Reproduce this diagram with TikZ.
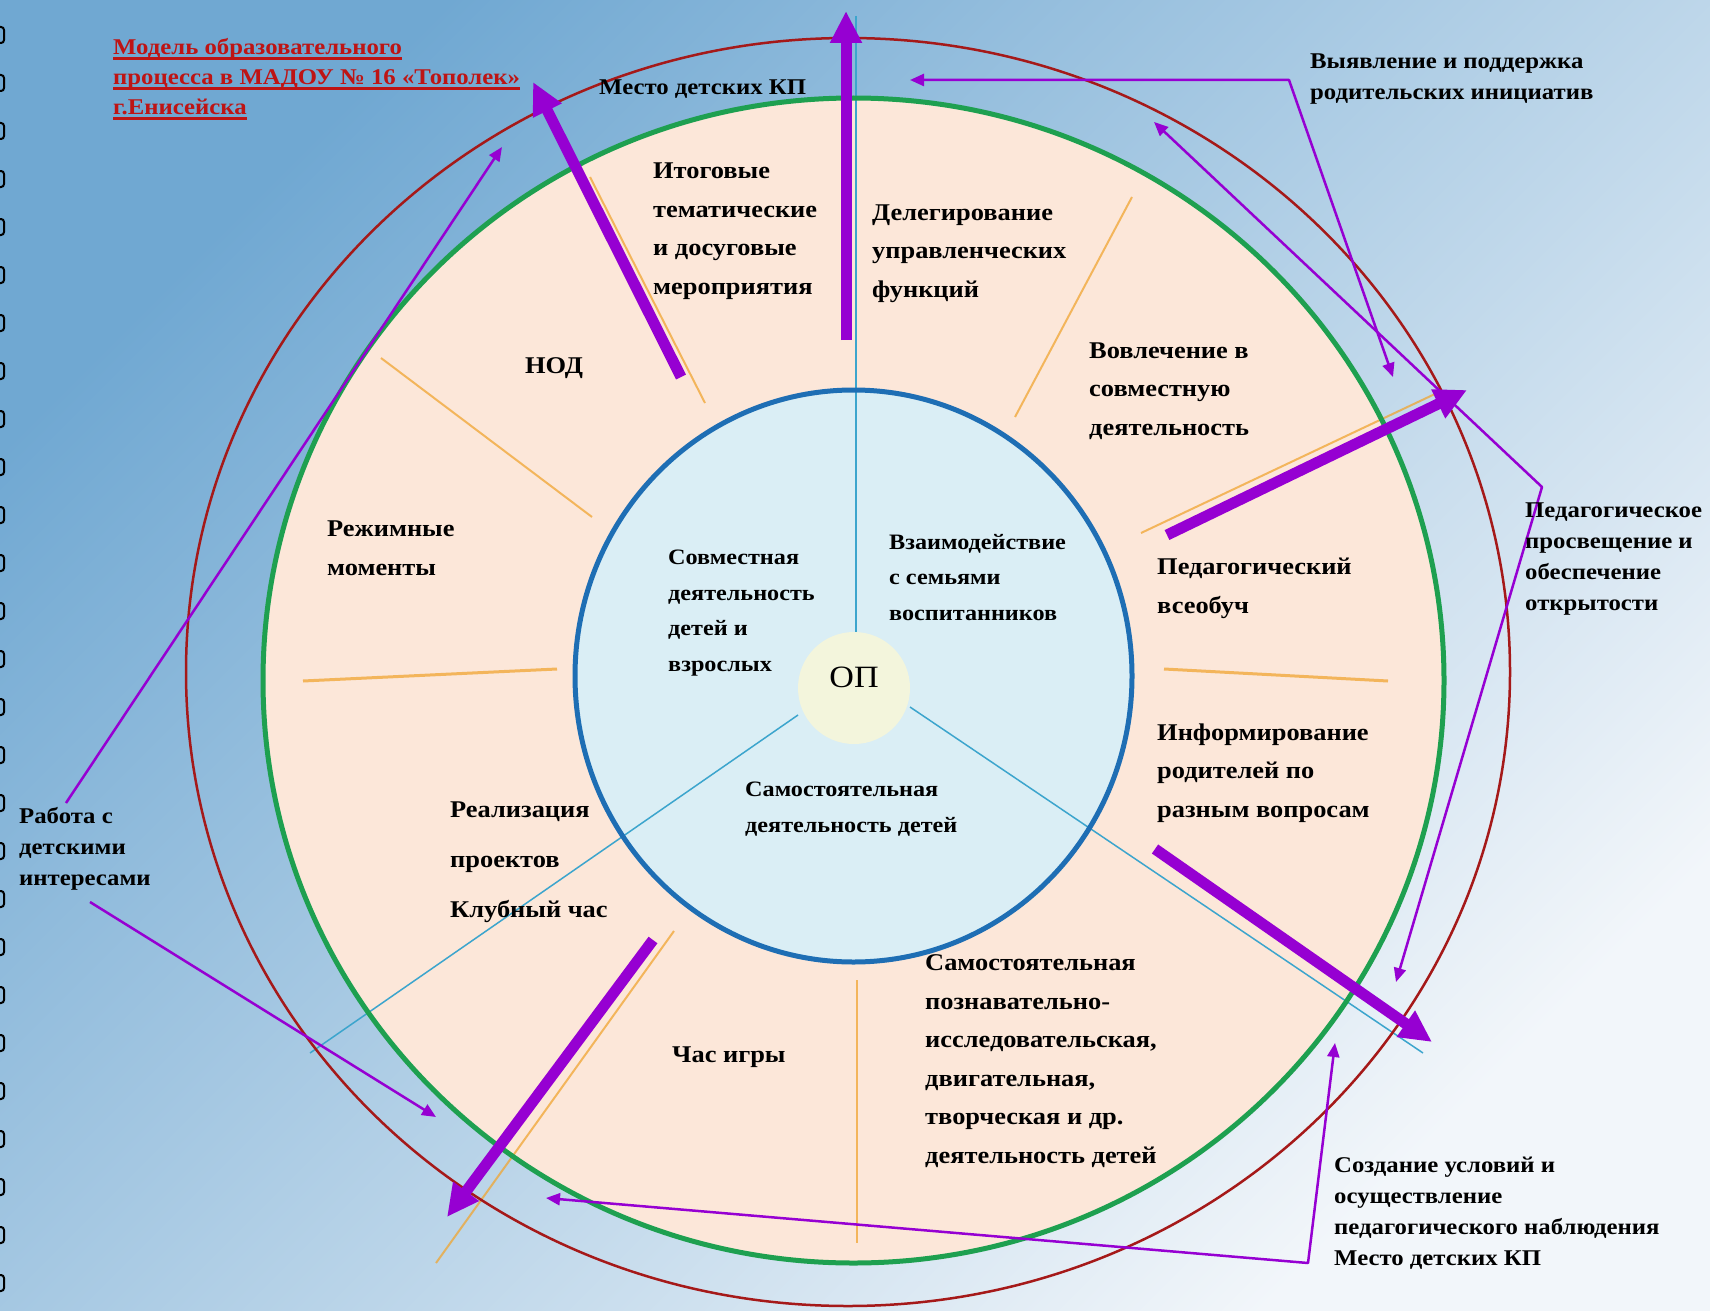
\documentclass[tikz,border=0pt]{standalone}
\usepackage{fontspec}
\setmainfont{Liberation Serif}[FakeStretch=1.1]
\usetikzlibrary{arrows.meta}

\definecolor{kpurple}{RGB}{150,0,210}
\definecolor{kred}{RGB}{165,25,25}
\definecolor{kgreen}{RGB}{30,160,80}
\definecolor{kblue}{RGB}{30,110,180}
\definecolor{kcyan}{RGB}{60,165,205}
\definecolor{korange}{RGB}{240,165,50}
\definecolor{kpeach}{RGB}{252,231,217}
\definecolor{kice}{RGB}{218,238,245}
\definecolor{kop}{RGB}{243,245,220}
\definecolor{bgdark}{RGB}{112,168,210}
\definecolor{bgmid}{RGB}{176,207,229}
\definecolor{bglight}{RGB}{242,246,250}
\definecolor{ktitle}{RGB}{190,20,20}

\newcommand\ttlline[1]{\setbox0=\hbox{#1}\rlap{\rule[-5pt]{\wd0}{2.5pt}}\box0}

\begin{document}
\begin{tikzpicture}[
        x = 1pt, y = -1pt,
        line join=round,
        % multi-line nodes sit on the baseline of their last line
        ringtext/.style = {anchor=base west, inner sep=0pt, align=left, font=\fontsize{24}{38.5}\selectfont\bfseries},
        innertext/.style = {ringtext, font=\fontsize{22}{35.5}\selectfont\bfseries},
        outtext/.style = {ringtext, font=\fontsize{22.5}{31}\selectfont\bfseries},
        divider/.style = {korange, line width=2pt, draw opacity=0.75},
        spoke/.style = {kcyan, line width=1.5pt},
        bigarrow/.style = {kpurple, line width=11pt, -{Triangle[length=32pt,width=30pt]}},
        thinarrow/.style = {kpurple, line width=2.5pt, -{Triangle[length=14pt,width=12pt]}},
        twoarrow/.style = {thinarrow, {Triangle[length=14pt,width=12pt]}-{Triangle[length=14pt,width=12pt]}}
    ]

    \useasboundingbox (0,0) rectangle (1710,1311);
    \shade[top color=bgdark, middle color=bgmid, bottom color=bglight, shading angle=45] (0,0) rectangle (1710,1311);

    % binding holes on the left edge
    \foreach \k in {0,...,26}
        \draw[line width=2pt, rounded corners=3pt] (-12, 27+48*\k) rectangle (4, 43+48*\k);

    % rings
    \fill[kpeach] (853.5,680.5) ellipse [x radius=590.5pt, y radius=582.5pt];

    \draw[divider] (705,403) -- (590,177);
    \draw[divider] (381,358) -- (592,517);
    \draw[divider, line width=3pt] (303,681) -- (557,669);
    \draw[divider, line width=3pt] (1164,669) -- (1388,681);
    \draw[divider] (1132,197) -- (1015,417);
    \draw[divider] (1437,393) -- (1141,533);
    \draw[divider] (674,931) -- (436,1263);
    \draw[divider] (857,980) -- (857,1243);

    \fill[kice] (853.5,676) ellipse [x radius=278.5pt, y radius=286pt];

    \coordinate (spoke-n) at (856,16);
    \coordinate (spoke-sw) at (310,1053);
    \coordinate (spoke-se) at (1423,1053);
    \coordinate (op-n) at (856,633);
    \coordinate (op-sw) at (798,715);
    \coordinate (op-se) at (910,707);

    \draw[spoke] (spoke-n) -- (op-n);
    \draw[spoke] (op-sw) -- (spoke-sw);
    \draw[spoke] (op-se) -- (spoke-se);

    \draw[kred, line width=2.5pt] (848,672) ellipse [x radius=662pt, y radius=634pt];
    \draw[kgreen, line width=5pt] (853.5,680.5) ellipse [x radius=590.5pt, y radius=582.5pt];
    \draw[kblue, line width=5pt] (853.5,676) ellipse [x radius=278.5pt, y radius=286pt];

    \fill[kop] (854,688) circle [radius=56pt];
    \node[inner sep=0pt, font=\fontsize{31}{31}\selectfont] (op) at (854,677) {ОП};

    % thick arrows
    \coordinate (a1) at (846,340);  \coordinate (a1t) at (846,11);
    \coordinate (a2) at (681,377);  \coordinate (a2t) at (533,82);
    \coordinate (a3) at (1167,535); \coordinate (a3t) at (1467,390);
    \coordinate (a4) at (1155,849); \coordinate (a4t) at (1432,1042);
    \coordinate (a5) at (653,940);  \coordinate (a5t) at (447,1217);

    \draw[bigarrow] (a1) -- (a1t);
    \draw[bigarrow] (a2) -- (a2t);
    \draw[bigarrow] (a3) -- (a3t);
    \draw[bigarrow] (a4) -- (a4t);
    \draw[bigarrow] (a5) -- (a5t);

    % thin arrows
    \coordinate (w1) at (66,803);   \coordinate (w1t) at (502,147);
    \coordinate (w2) at (90,902);   \coordinate (w2t) at (436,1117);
    \coordinate (h1) at (910,80);   \coordinate (h2) at (1289,80);   \coordinate (h3) at (1393,377);
    \coordinate (p1) at (1154,122); \coordinate (p2) at (1542,487);  \coordinate (p3) at (1396,982);
    \coordinate (s1) at (1335,1043); \coordinate (s2) at (1308,1263); \coordinate (s3) at (546,1198);

    \draw[thinarrow] (w1) -- (w1t);
    \draw[thinarrow] (w2) -- (w2t);
    \draw[twoarrow] (h1) -- (h2) -- (h3);
    \draw[twoarrow] (p1) -- (p2) -- (p3);
    \draw[twoarrow] (s1) -- (s2) -- (s3);

    % labels
    \node[outtext, text=ktitle, font=\fontsize{22.5}{30}\selectfont\bfseries] (title) at (113,115)
        {\ttlline{Модель образовательного}\\\ttlline{процесса в МАДОУ № 16 «Тополек»}\\\ttlline{г.Енисейска}};
    \node[outtext] (mesto) at (599,95) {Место детских КП};
    \node[ringtext] (itog) at (653,294) {Итоговые\\тематические\\и досуговые\\мероприятия};
    \node[ringtext] (deleg) at (872,297) {Делегирование\\управленческих\\функций};
    \node[ringtext] (vovl) at (1089,435) {Вовлечение в\\совместную\\деятельность};
    \node[ringtext] (nod) at (525,373) {НОД};
    \node[ringtext] (rezhim) at (327,575) {Режимные\\моменты};
    \node[innertext] (sovm) at (668,671) {Совместная\\деятельность\\детей и\\взрослых};
    \node[innertext] (vzaim) at (889,620) {Взаимодействие\\с семьями\\воспитанников};
    \node[ringtext] (vseob) at (1157,613) {Педагогический\\всеобуч};
    \node[innertext] (samin) at (745,832) {Самостоятельная\\деятельность детей};
    \node[ringtext] (inform) at (1157,817) {Информирование\\родителей по\\разным вопросам};
    \node[ringtext, font=\fontsize{24}{50}\selectfont\bfseries] (realiz) at (450,917) {Реализация\\проектов\\Клубный час};
    \node[ringtext] (chas) at (672,1062) {Час игры};
    \node[ringtext] (samout) at (925,1163)
        {Самостоятельная\\познавательно-\\исследовательская,\\двигательная,\\творческая и др.\\деятельность детей};
    \node[outtext] (vyavl) at (1310,100) {Выявление и поддержка\\родительских инициатив};
    \node[outtext] (prosv) at (1525,610) {Педагогическое\\просвещение и\\обеспечение\\открытости};
    \node[outtext] (rabota) at (19,885) {Работа с\\детскими\\интересами};
    \node[outtext] (sozd) at (1334,1265) {Создание условий и\\осуществление\\педагогического наблюдения\\Место детских КП};
\end{tikzpicture}
\end{document}
